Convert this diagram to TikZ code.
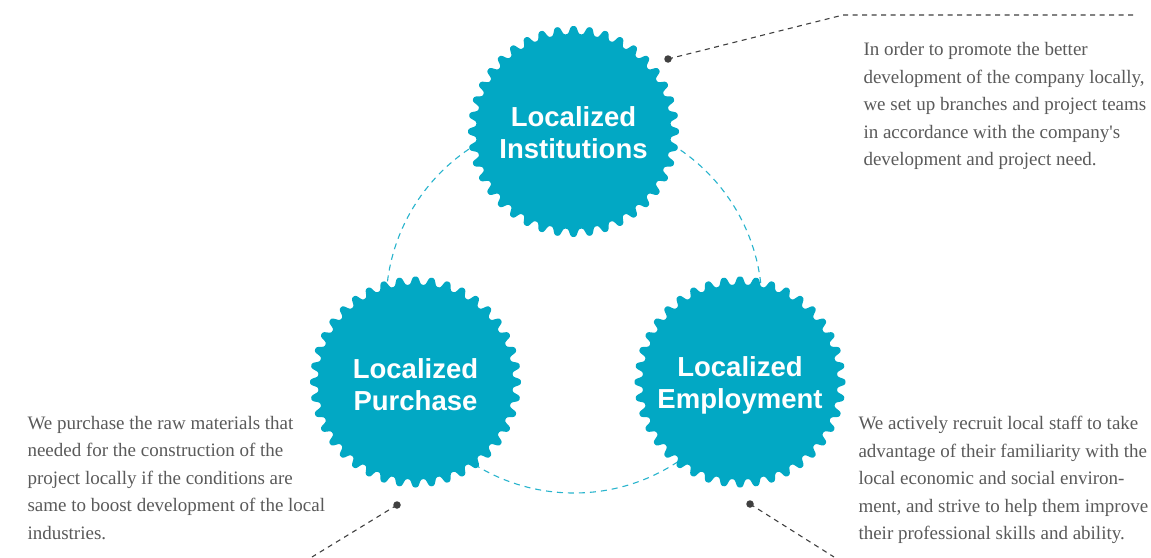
\documentclass[tikz,border=0pt]{standalone}
\usepackage{fontspec}
\setmainfont{Liberation Serif}
\newfontfamily\gearlabelfont{Liberation Sans}
\definecolor{gearc}{RGB}{2,168,196}
\definecolor{ringc}{RGB}{40,180,205}
\definecolor{leadc}{RGB}{64,64,64}
\definecolor{textc}{RGB}{90,90,90}
\newcommand\gearshape[2]{%
  \fill[gearc,shift={(#1,#2)}] plot[domain=0:360,samples=801,variable=\t]
    (\t:{101.5+4*tanh(1.5*cos(40*\t))/tanh(1.5)}) -- cycle;}
\begin{document}
\begin{tikzpicture}[x=1pt,y=-1pt,
  ring/.style={draw=ringc,line width=1.1pt,dash pattern=on 6pt off 5pt},
  glabel/.style={circle,minimum size=200pt,inner sep=0pt,text=white,align=center,
    font=\gearlabelfont\bfseries\fontsize{27.5}{32}\selectfont},
  leader/.style={draw=leadc,line width=1.1pt,dash pattern=on 5pt off 4.5pt},
  dotnode/.style={circle,fill=leadc,inner sep=0pt,minimum size=7.5pt},
  para/.style={anchor=north west,inner sep=0pt,align=left,text=textc,
    font=\fontsize{19}{27.5}\selectfont}]
\useasboundingbox (0,0) rectangle (1151,557);
\fill[white] (0,0) rectangle (1151,557);
% dashed ring through the gears
\draw[ring] (574,305) circle [radius=188pt];
% gears
\gearshape{573.5}{131.5}
\gearshape{415.5}{382}
\gearshape{740}{382}
\node[glabel] (inst) at (573.5,133) {Localized\\Institutions};
\node[glabel] (purch) at (415.5,385) {Localized\\Purchase};
\node[glabel] (empl) at (740,385) {Localized\\Employment};
% leaders
\node[dotnode] (d1) at (668,59) {};
\node[dotnode] (d2) at (397,505) {};
\node[dotnode] (d3) at (750,504) {};
\coordinate (k1) at (843,15);
\coordinate (e1) at (1137,15);
\coordinate (e2) at (312,557);
\coordinate (e3) at (834,557);
\draw[leader] (d1.center) -- (k1) -- (e1);
\draw[leader] (d2.center) -- (e2);
\draw[leader] (d3.center) -- (e3);
% paragraphs
\node[para] (t1) at (863.3,42.5) {In order to promote the better\\development of the company locally,\\we set up branches and project teams\\in accordance with the company\textquotesingle s\\development and project need.};
\node[para] (t2) at (27.3,416) {We purchase the raw materials that\\needed for the construction of the\\project locally if the conditions are\\same to boost development of the local\\industries.};
\node[para] (t3) at (858.3,416) {We actively recruit local staff to take\\advantage of their familiarity with the\\local economic and social environ-\\ment, and strive to help them improve\\their professional skills and ability.};
\end{tikzpicture}
\end{document}
